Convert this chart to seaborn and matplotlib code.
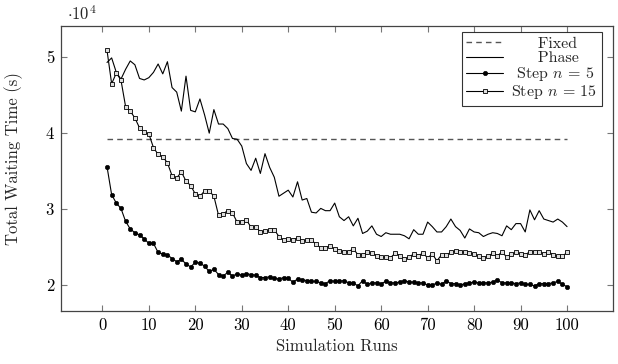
import numpy as np
import pandas as pd
import seaborn as sns
import matplotlib
matplotlib.use("Agg")
import matplotlib.pyplot as plt
from matplotlib.ticker import FuncFormatter

# values in units of 10^4 s
runs = list(range(1, 101))

fixed_value = 3.92

phase = [4.93, 4.99, 4.80, 4.71, 4.84, 4.95, 4.90, 4.72, 4.70, 4.73,
         4.80, 4.91, 4.78, 4.94, 4.60, 4.54, 4.29, 4.75, 4.30, 4.28,
         4.45, 4.24, 4.00, 4.31, 4.12, 4.12, 4.06, 3.93, 3.92, 3.83,
         3.60, 3.51, 3.67, 3.47, 3.73, 3.55, 3.42, 3.17, 3.21, 3.25,
         3.16, 3.36, 3.12, 3.14, 2.96, 2.95, 3.01, 2.98, 2.98, 3.08,
         2.90, 2.85, 2.90, 2.78, 2.88, 2.68, 2.71, 2.78, 2.67, 2.64,
         2.69, 2.67, 2.67, 2.67, 2.65, 2.61, 2.73, 2.67, 2.67, 2.83,
         2.77, 2.70, 2.70, 2.77, 2.87, 2.77, 2.72, 2.62, 2.74, 2.70,
         2.69, 2.64, 2.67, 2.69, 2.68, 2.65, 2.78, 2.73, 2.81, 2.81,
         2.70, 2.99, 2.86, 2.98, 2.87, 2.85, 2.83, 2.87, 2.83, 2.77]

step5 = [3.56, 3.19, 3.08, 3.01, 2.84, 2.74, 2.69, 2.66, 2.61, 2.55,
         2.55, 2.43, 2.41, 2.40, 2.35, 2.31, 2.34, 2.28, 2.24, 2.30,
         2.29, 2.25, 2.18, 2.21, 2.14, 2.12, 2.17, 2.12, 2.15, 2.13,
         2.15, 2.14, 2.13, 2.10, 2.10, 2.11, 2.09, 2.08, 2.10, 2.09,
         2.04, 2.08, 2.07, 2.06, 2.05, 2.05, 2.03, 2.02, 2.06, 2.05,
         2.05, 2.06, 2.03, 2.03, 1.99, 2.06, 2.01, 2.03, 2.03, 2.02,
         2.05, 2.03, 2.03, 2.04, 2.06, 2.04, 2.04, 2.03, 2.03, 2.00,
         2.00, 2.03, 2.01, 2.06, 2.02, 2.02, 2.00, 2.02, 2.03, 2.04,
         2.03, 2.03, 2.03, 2.04, 2.07, 2.03, 2.03, 2.03, 2.02, 2.03,
         2.01, 2.01, 1.99, 2.02, 2.02, 2.02, 2.03, 2.05, 2.01, 1.98]

step15 = [5.09, 4.65, 4.79, 4.70, 4.35, 4.29, 4.20, 4.07, 4.01, 3.99,
          3.81, 3.72, 3.69, 3.61, 3.44, 3.41, 3.49, 3.37, 3.31, 3.20,
          3.17, 3.24, 3.24, 3.17, 2.92, 2.94, 2.98, 2.95, 2.83, 2.83,
          2.86, 2.76, 2.77, 2.70, 2.71, 2.72, 2.73, 2.64, 2.59, 2.61,
          2.60, 2.62, 2.58, 2.59, 2.59, 2.54, 2.49, 2.49, 2.52, 2.47,
          2.45, 2.44, 2.44, 2.48, 2.40, 2.40, 2.43, 2.42, 2.39, 2.37,
          2.37, 2.36, 2.42, 2.39, 2.34, 2.37, 2.41, 2.39, 2.42, 2.36,
          2.41, 2.32, 2.40, 2.40, 2.43, 2.45, 2.44, 2.43, 2.42, 2.41,
          2.38, 2.36, 2.38, 2.42, 2.38, 2.44, 2.37, 2.41, 2.43, 2.41,
          2.40, 2.44, 2.44, 2.44, 2.41, 2.44, 2.40, 2.38, 2.38, 2.43]

xticks = list(range(0, 101, 10))
yticks = [2, 3, 4, 5]

sns.set_theme(style="ticks")
plt.rcParams["font.family"] = ["cmr10", "DejaVu Serif"]
plt.rcParams["mathtext.fontset"] = "cm"
plt.rcParams["axes.formatter.use_mathtext"] = True

df = pd.DataFrame({"run": runs, "Phase": phase, "Step5": step5, "Step15": step15})
df["Fixed"] = fixed_value

fig = plt.figure(figsize=(6.18, 3.64), dpi=100)
ax = fig.add_axes([0.0987, 0.1456, 0.8933, 0.7830])

# legend labels padded with spaces so they sit centred like pgfplots
sns.lineplot(data=df, x="run", y="Fixed", ax=ax, color="#555555", lw=1.0,
             linestyle=(0, (4, 3)), label="     Fixed")
sns.lineplot(data=df, x="run", y="Phase", ax=ax, color="black", lw=0.8,
             label="     Phase")
sns.lineplot(data=df, x="run", y="Step5", ax=ax, color="black", lw=0.8,
             marker="o", markersize=3.2, markerfacecolor="black",
             markeredgecolor="black", markeredgewidth=0.4,
             label=r" Step $n$ = 5")
sns.lineplot(data=df, x="run", y="Step15", ax=ax, color="black", lw=0.8,
             marker="s", markersize=3.3, markerfacecolor="#dddddd",
             markeredgecolor="black", markeredgewidth=0.6,
             label=r"Step $n$ = 15")

ax.set_xlim(-8.9, 109.9)
ax.set_ylim(1.66, 5.41)
ax.set_xticks(xticks)
ax.set_yticks(yticks)
ax.xaxis.set_major_formatter(FuncFormatter(lambda v, p: "%d" % v))
ax.yaxis.set_major_formatter(FuncFormatter(lambda v, p: "%d" % v))
ax.tick_params(direction="in", top=True, right=True, length=4.5, width=0.8,
               color="#777777", labelsize=12, labelcolor="black", pad=5)
for s in ax.spines.values():
    s.set_color("#444444")
    s.set_linewidth(0.9)

ax.set_xlabel("Simulation Runs", fontsize=12, labelpad=4)
ax.set_ylabel("Total Waiting Time (s)", fontsize=12)
ax.yaxis.set_label_coords(-0.068, 0.535)
ax.text(0.01, 1.045, r"$\cdot 10^4$", transform=ax.transAxes, fontsize=12,
        ha="left", va="center")

leg = ax.legend(loc="upper right", bbox_to_anchor=(0.98, 0.979),
                borderaxespad=0, fontsize=11.5, frameon=True, fancybox=False,
                handlelength=2.3, labelspacing=0.0, borderpad=0.3,
                handletextpad=0.5)
leg.get_frame().set_edgecolor("black")
leg.get_frame().set_linewidth(0.8)

fig.savefig("out.png", dpi=100)
